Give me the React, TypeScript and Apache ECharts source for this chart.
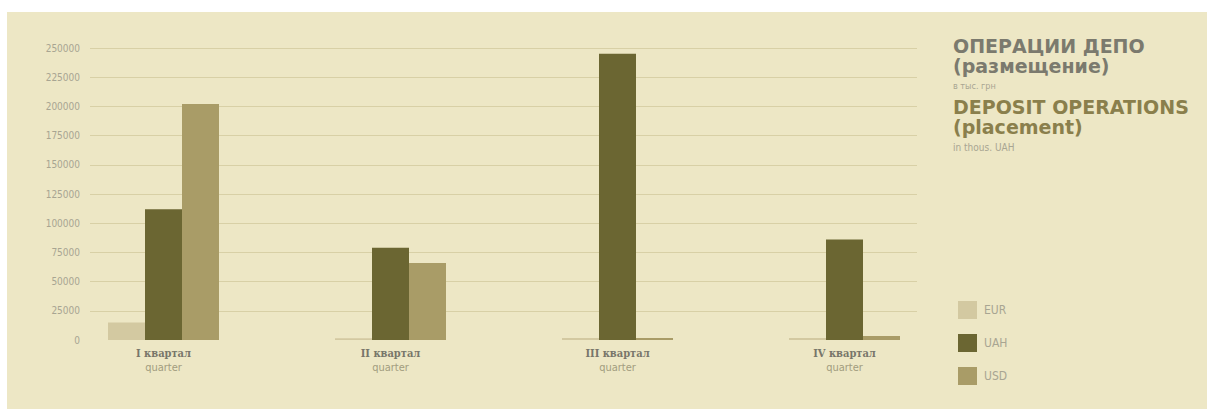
import React, { useEffect, useRef } from "react";
import * as echarts from "echarts";

const categories = ["I квартал", "II квартал", "III квартал", "IV квартал"];
const subLabel = "quarter";
const seriesNames = ["EUR", "UAH", "USD"];
const eurValues = [15000, 1500, 1800, 1800];
const uahValues = [112000, 79000, 245000, 86000];
const usdValues = [202000, 66000, 1800, 3500];
const yTicks = [0, 25000, 50000, 75000, 100000, 125000, 150000, 175000, 200000, 225000, 250000];
const titleRu = "ОПЕРАЦИИ ДЕПО";
const subRu = "(размещение)";
const unitRu = "в тыс. грн";
const titleEn = "DEPOSIT OPERATIONS";
const subEn = "(placement)";
const unitEn = "in thous. UAH";

const BG = "#ede7c5";
const C_EUR = "#d3c9a1";
const C_UAH = "#6b6632";
const C_USD = "#a99c67";
const TITLE_FONT = "bold 19px 'DejaVu Sans', sans-serif";

export default function App() {
  const ref = useRef<HTMLDivElement>(null);
  useEffect(() => {
    document.body.style.margin = "0";
    const chart = echarts.init(ref.current!, null, { renderer: "svg" });
    const yMax = yTicks[yTicks.length - 1];
    const interval = yTicks[1] - yTicks[0];
    const colors = [C_EUR, C_UAH, C_USD];
    const values = [eurValues, uahValues, usdValues];
    chart.setOption({
      animation: false,
      backgroundColor: "#ffffff",
      textStyle: { fontFamily: "'DejaVu Sans Condensed', 'Noto Sans', sans-serif" },
      graphic: [
        { type: "rect", z: -10, silent: true, shape: { x: 7, y: 12, width: 1200, height: 397 }, style: { fill: BG } },
        { type: "text", left: 953, top: 36, style: { text: titleRu, fill: "#7b7a6e", font: TITLE_FONT } },
        { type: "text", left: 953, top: 56, style: { text: subRu, fill: "#7b7a6e", font: TITLE_FONT } },
        { type: "text", left: 953, top: 81, style: { text: unitRu, fill: "#a8a592", font: "9px 'DejaVu Sans Condensed', sans-serif" } },
        { type: "text", left: 953, top: 97, style: { text: titleEn, fill: "#8a7f4c", font: TITLE_FONT } },
        { type: "text", left: 953, top: 117, style: { text: subEn, fill: "#8a7f4c", font: TITLE_FONT } },
        { type: "text", left: 953, top: 142, style: { text: unitEn, fill: "#a8a592", font: "10px 'DejaVu Sans Condensed', sans-serif" } },
      ],
      legend: {
        orient: "vertical",
        left: 953,
        top: 296,
        itemWidth: 19,
        itemHeight: 18,
        itemGap: 15,
        icon: "rect",
        data: seriesNames,
        textStyle: { color: "#a8a592", fontSize: 12, padding: [0, 0, 0, 2] },
      },
      grid: [
        { left: 90, right: 290, top: 48, bottom: 69 },
        { left: 50, right: 249, top: 48, bottom: 69 },
      ],
      xAxis: [
        { gridIndex: 0, type: "category", data: categories, show: false },
        {
          gridIndex: 1,
          type: "category",
          data: categories,
          axisLine: { show: false },
          axisTick: { show: false },
          axisLabel: {
            margin: 6,
            formatter: (v: string) => `{a|${v}}\n{b|${subLabel}}`,
            rich: {
              a: { fontFamily: "'DejaVu Serif Condensed', 'DejaVu Serif', serif", fontWeight: "bold", fontSize: 11, color: "#78766a", lineHeight: 14 },
              b: { fontFamily: "'DejaVu Sans Condensed', sans-serif", fontSize: 11, color: "#a29d7f", lineHeight: 14 },
            },
          },
        },
      ],
      yAxis: [
        {
          gridIndex: 0,
          type: "value",
          min: 0,
          max: yMax,
          interval,
          axisLine: { show: false },
          axisTick: { show: false },
          axisLabel: { margin: 10, color: "#a8a592", fontSize: 10, formatter: (v: number) => String(v) },
          splitLine: { show: true, showMinLine: false, lineStyle: { color: "#d8d0a6", width: 1 } },
        },
        { gridIndex: 1, type: "value", min: 0, max: yMax, interval, show: false, splitLine: { show: false } },
      ],
      series: seriesNames.map((name, i) => ({
        name,
        type: "bar",
        xAxisIndex: 1,
        yAxisIndex: 1,
        barWidth: 37,
        barGap: "0%",
        itemStyle: { color: colors[i] },
        data: values[i],
      })),
    });
    return () => chart.dispose();
  }, []);
  return <div ref={ref} style={{ width: 1207, height: 409 }} />;
}
